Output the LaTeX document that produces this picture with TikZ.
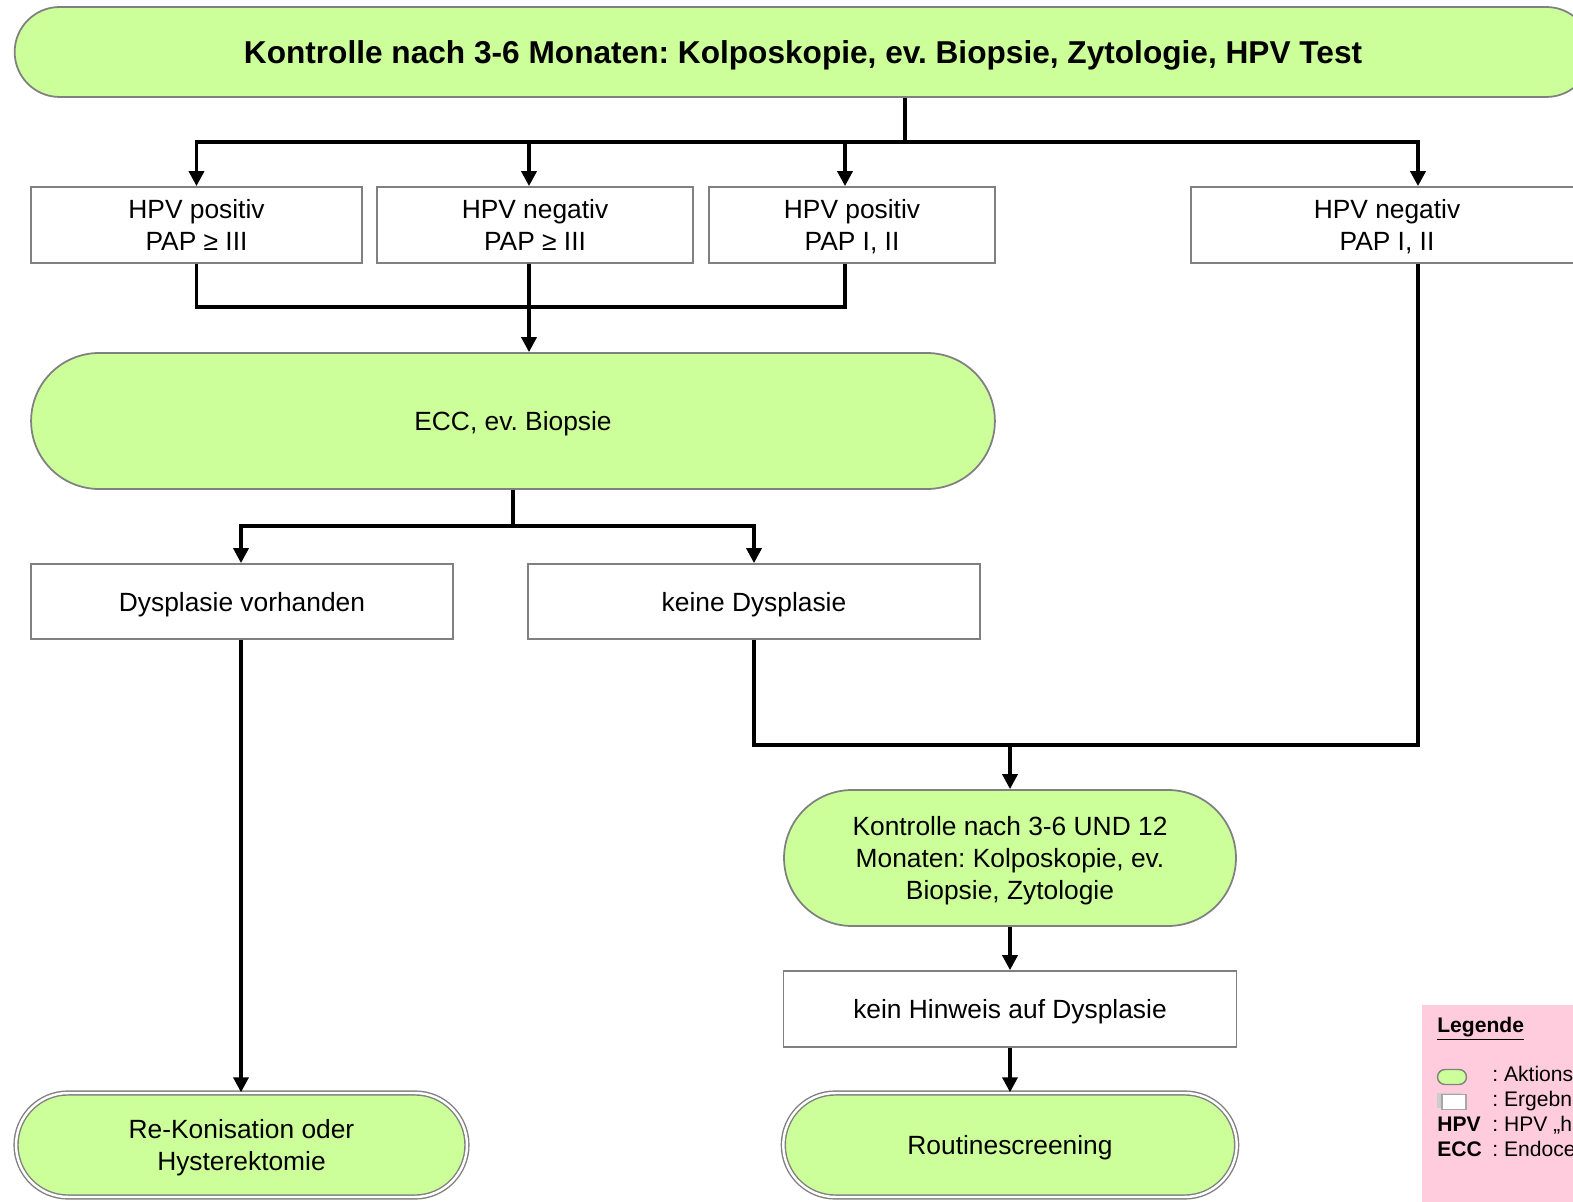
\documentclass[tikz,border=0pt]{standalone}
\usepackage{fontspec}
\setmainfont{Liberation Sans}
\usetikzlibrary{arrows.meta}
\definecolor{hellgruen}{RGB}{204,255,153}
\definecolor{rosa}{RGB}{255,204,221}
\definecolor{rahmen}{RGB}{128,128,128}
\frenchspacing

\begin{document}
\begin{tikzpicture}[x=0.02cm, y=-0.02cm,
  every node/.style={font=\fontsize{15}{18}\selectfont, align=center, inner sep=0pt, text depth=0pt},
  aktion/.style={draw=rahmen, line width=1pt, fill=hellgruen},
  ergebnis/.style={draw=rahmen, line width=1pt, fill=white, minimum height=1.52cm},
  ende/.style={draw=rahmen, line width=0.8pt, double=white, double distance=1.4pt,
    fill=hellgruen, minimum height=2.08cm, rounded corners=1.04cm},
  linie/.style={line width=2pt},
  pfeil/.style={linie, -{Triangle[width=8.5pt,length=8.5pt]}},
  legtxt/.style={font=\fontsize{12}{14}\selectfont, anchor=base west}]

\clip (0,0) rectangle (1573,1202);

% Kontrolle
\node[aktion, font=\bfseries\fontsize{18}{21}\selectfont, minimum width=31.54cm,
  minimum height=1.8cm, rounded corners=0.9cm] (kontrolle) at (803,52)
  {Kontrolle nach 3-6 Monaten: Kolposkopie, ev. Biopsie, Zytologie, HPV Test};

% Befunde
\node[ergebnis, minimum width=6.62cm] (pospap3) at (196.5,225) {HPV positiv\\PAP ≥ III};
\node[ergebnis, minimum width=6.32cm] (negpap3) at (535,225) {HPV negativ\\PAP ≥ III};
\node[ergebnis, minimum width=5.72cm] (pospap1) at (852,225) {HPV positiv\\PAP I, II};
\node[ergebnis, minimum width=7.84cm] (negpap1) at (1387,225) {HPV negativ\\PAP I, II};

\node[aktion, minimum width=19.28cm, minimum height=2.72cm, rounded corners=1.36cm]
  (ecc) at (513,421) {ECC, ev. Biopsie};

\node[ergebnis, minimum width=8.44cm, minimum height=1.5cm] (dysja) at (242,601.5) {Dysplasie vorhanden};
\node[ergebnis, minimum width=9.04cm, minimum height=1.5cm] (dysnein) at (754,601.5) {keine Dysplasie};

\node[aktion, minimum width=9.04cm, minimum height=2.72cm, rounded corners=1.36cm]
  (kontrolle12) at (1010,858) {Kontrolle nach 3-6 UND 12\\Monaten: Kolposkopie, ev.\\Biopsie, Zytologie};
\node[ergebnis, minimum width=9.06cm] (hinweis) at (1010,1009) {kein Hinweis auf Dysplasie};

\node[ende, minimum width=9.02cm] (konisation) at (241.5,1145) {Re-Konisation oder\\Hysterektomie};
\node[ende, minimum width=9.07cm] (routine) at (1010,1145) {Routinescreening};

% Verbindungen
\coordinate (split1) at (905,142);
\coordinate (merge1) at (529,307);
\coordinate (split2) at (513,526);
\coordinate (merge2) at (1010,745);

\draw[linie] (kontrolle.south -| split1) -- (split1);
\draw[pfeil] (split1) -| (pospap3.north);
\draw[pfeil] (split1) -| ([xshift=-0.12cm]negpap3.north);
\draw[pfeil] (split1) -| ([xshift=-0.14cm]pospap1.north);
\draw[pfeil] (split1) -| ([xshift=0.62cm]negpap1.north);

\draw[linie] (pospap3.south) |- (merge1) -| ([xshift=-0.14cm]pospap1.south);
\draw[pfeil] ([xshift=-0.12cm]negpap3.south) -- (merge1 |- ecc.north);

\draw[linie] (ecc.south) -- (split2);
\draw[pfeil] (split2) -| ([xshift=-0.02cm]dysja.north);
\draw[pfeil] (split2) -| (dysnein.north);

\draw[pfeil] ([xshift=-0.02cm]dysja.south) -- ([xshift=-0.02cm]dysja.south |- konisation.north);

\draw[linie] (dysnein.south) |- (merge2) -| ([xshift=0.62cm]negpap1.south);
\draw[pfeil] (merge2) -- (kontrolle12.north);
\draw[pfeil] (kontrolle12.south) -- (hinweis.north);
\draw[pfeil] (hinweis.south) -- (routine.north);

% Legende
\fill[rosa] (1422,1005) rectangle (1600,1210);
\node[legtxt, font=\bfseries\fontsize{12}{14}\selectfont] (legtitel) at (1437,1032) {\underline{Legende}};
\node[draw=rahmen, line width=0.8pt, fill=hellgruen, minimum width=0.58cm,
  minimum height=0.3cm, rounded corners=0.15cm] (legaktion) at (1452,1077) {};
\node[legtxt] (legaktiontxt) at (1492,1081) {: Aktionsschritt};
\fill[rahmen!40] (1437,1093) rectangle (1461,1108);
\node[draw=rahmen!70, line width=0.6pt, fill=white, minimum width=0.48cm,
  minimum height=0.3cm] (legergebnis) at (1454,1102) {};
\node[legtxt] (legergebnistxt) at (1492,1106) {: Ergebnis};
\node[legtxt, font=\bfseries\fontsize{12}{14}\selectfont] (leghpv) at (1437,1131) {HPV};
\node[legtxt] (leghpvtxt) at (1492,1131) {: HPV „high risk“ Typen};
\node[legtxt, font=\bfseries\fontsize{12}{14}\selectfont] (legecc) at (1437,1156) {ECC};
\node[legtxt] (legecctxt) at (1492,1156) {: Endocervicale Curettage};

\end{tikzpicture}
\end{document}
